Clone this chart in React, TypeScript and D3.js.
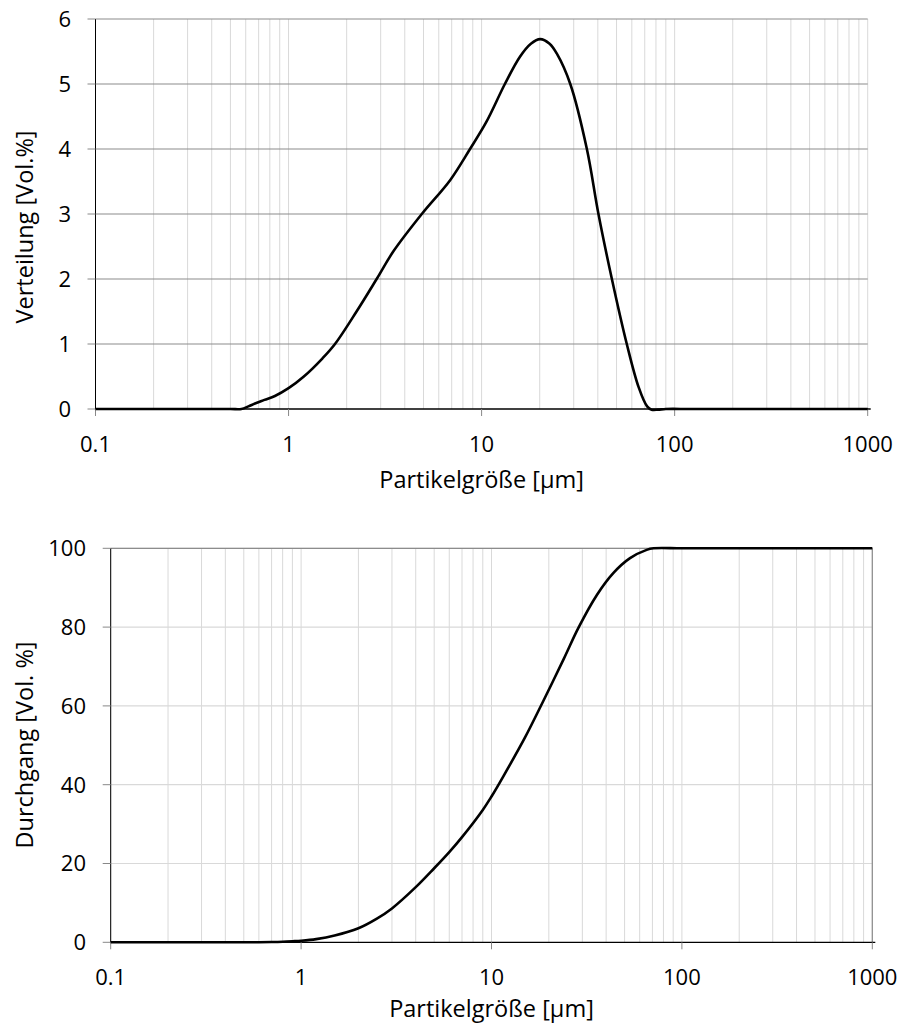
import React from "react";
import * as d3 from "d3";

// Top chart: distribution (Verteilung)
const distX = [0.1, 0.3, 0.5, 0.57, 0.62, 0.67, 0.75, 0.85, 1.0, 1.2, 1.5, 1.74, 2.25, 2.86, 3.5, 4.9, 6.87, 8.71, 10.6, 13.2, 15.8, 18, 20.1, 22.5, 24.5, 28.8, 35.1, 40.3, 47.3, 56.5, 65, 72, 76, 82, 90, 120, 200, 400, 1000];
const distY = [0, 0, 0, 0, 0.04, 0.085, 0.14, 0.2, 0.32, 0.5, 0.78, 1.0, 1.5, 2.0, 2.43, 3.0, 3.52, 4.0, 4.42, 5.0, 5.42, 5.62, 5.69, 5.62, 5.47, 5.0, 4.0, 3.0, 2.0, 1.0, 0.34, 0.04, -0.01, -0.01, 0, 0, 0, 0, 0];

// Bottom chart: cumulative (Durchgang)
const cumX = [0.1, 0.3, 0.5, 0.6, 0.7, 0.8, 0.9, 1.0, 1.2, 1.5, 2.0, 2.5, 3.0, 4.0, 5.0, 6.0, 7.0, 9.0, 10, 11.5, 15.0, 18.6, 24, 28.6, 35.7, 43.6, 53.4, 65.3, 71, 100, 200, 400, 1000];
const cumY = [0, 0, 0, 0.02, 0.07, 0.15, 0.27, 0.4, 0.8, 1.7, 3.55, 6.0, 8.6, 14.0, 18.8, 22.9, 26.7, 33.6, 37.0, 42.0, 52.0, 61.0, 72.0, 79.8, 88.1, 93.7, 97.5, 99.6, 100, 100, 100, 100, 100];

const xTickValues = [0.1, 1, 10, 100, 1000];
const xTickLabels = ["0.1", "1", "10", "100", "1000"];
const topYTicks = [0, 1, 2, 3, 4, 5, 6];
const bottomYTicks = [0, 20, 40, 60, 80, 100];

const xTitle = "Partikelgröße [µm]";
const topYTitle = "Verteilung [Vol.%]";
const bottomYTitle = "Durchgang [Vol. %]";

const FONT = "'Open Sans', sans-serif";

function minorGrid(): number[] {
  const out: number[] = [];
  for (let e = -1; e < 3; e++) {
    for (let m = 1; m <= 9; m++) out.push(m * Math.pow(10, e));
  }
  out.push(1000);
  return out;
}

type PanelProps = {
  left: number; right: number; top: number; bottom: number;
  yMax: number; yTicks: number[]; xs: number[]; ys: number[];
  hGridColor: string; borderColor: string | null; yTitle: string;
  yTitleY: number; xTitleY: number; xLabelY: number; yLabelX: number;
};

function Panel(p: PanelProps) {
  const x = d3.scaleLog().domain([0.1, 1000]).range([p.left, p.right]);
  const y = d3.scaleLinear().domain([0, p.yMax]).range([p.bottom, p.top]);
  const pts: [number, number][] = p.xs.map((v, i) => [v, p.ys[i]]);
  const line = d3.line<[number, number]>()
    .x(d => x(d[0]))
    .y(d => y(d[1]))
    .curve(d3.curveCatmullRom.alpha(0.5));
  const grid = minorGrid();
  return (
    <g>
      {grid.map((g, i) => (
        <line key={"vg" + i} x1={x(g)} x2={x(g)} y1={p.top} y2={p.bottom} stroke="#d9d9d9" strokeWidth={1} />
      ))}
      {p.yTicks.filter(t => t > 0).map((t, i) => (
        <line key={"hg" + i} x1={p.left} x2={p.right} y1={y(t)} y2={y(t)} stroke={p.hGridColor} strokeWidth={1.2} />
      ))}
      {p.borderColor && (
        <g>
          <line x1={p.left} x2={p.right} y1={p.top} y2={p.top} stroke={p.borderColor} strokeWidth={1.2} />
          <line x1={p.right} x2={p.right} y1={p.top} y2={p.bottom} stroke={p.borderColor} strokeWidth={1.2} />
        </g>
      )}
      {/* y axis */}
      <line x1={p.left} x2={p.left} y1={p.top} y2={p.bottom} stroke="#000" strokeWidth={1} />
      {p.yTicks.map((t, i) => (
        <line key={"yt" + i} x1={p.left - 8} x2={p.left} y1={y(t)} y2={y(t)} stroke="#888" strokeWidth={1} />
      ))}
      {p.yTicks.map((t, i) => (
        <text key={"yl" + i} x={p.yLabelX} y={y(t)} dy="0.36em" textAnchor="end" fontFamily={FONT} fontSize={22} fill="#000">{t}</text>
      ))}
      {/* x axis */}
      <line x1={p.left} x2={p.right + 3} y1={p.bottom} y2={p.bottom} stroke="#000" strokeWidth={1.3} />
      {xTickValues.map((t, i) => (
        <line key={"xt" + i} x1={x(t)} x2={x(t)} y1={p.bottom} y2={p.bottom + 7} stroke="#888" strokeWidth={1} />
      ))}
      {xTickValues.map((t, i) => (
        <text key={"xl" + i} x={x(t)} y={p.xLabelY} textAnchor="middle" fontFamily={FONT} fontSize={22} fill="#000">{xTickLabels[i]}</text>
      ))}
      <path d={line(pts) || ""} fill="none" stroke="#000" strokeWidth={2.6} strokeLinejoin="round" />
      <text x={(p.left + p.right) / 2} y={p.xTitleY} textAnchor="middle" fontFamily={FONT} fontSize={23.5} fill="#000">{xTitle}</text>
      <text transform={`translate(33,${p.yTitleY}) rotate(-90)`} textAnchor="middle" fontFamily={FONT} fontSize={23.5} fill="#000">{p.yTitle}</text>
    </g>
  );
}

export default function App() {
  return (
    <svg width={900} height={1025} style={{ position: "absolute", left: 0, top: 0, background: "#fff" }}>
      <rect x={0} y={0} width={900} height={1025} fill="#fff" />
      <Panel left={95.5} right={867.7} top={19} bottom={409} yMax={6} yTicks={topYTicks}
        xs={distX} ys={distY} hGridColor="#8c8c8c" borderColor={null} yTitle={topYTitle}
        yTitleY={227} xTitleY={488} xLabelY={452} yLabelX={71} />
      <Panel left={110.7} right={872.3} top={548.3} bottom={942.3} yMax={100} yTicks={bottomYTicks}
        xs={cumX} ys={cumY} hGridColor="#d9d9d9" borderColor="#8c8c8c" yTitle={bottomYTitle}
        yTitleY={745} xTitleY={1017} xLabelY={985} yLabelX={86} />
    </svg>
  );
}
